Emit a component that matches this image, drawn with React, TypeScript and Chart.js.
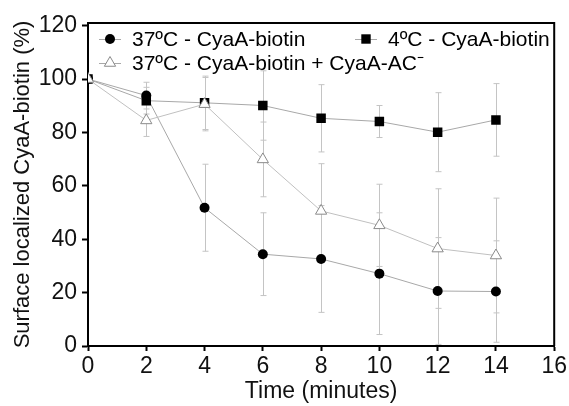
import React, { useEffect, useRef } from 'react';
import { Chart, registerables } from 'chart.js';

Chart.register(...registerables);

const times = [0, 2, 4, 6, 8, 10, 12, 14];
const warmMean = [100, 93.8, 51.8, 34.4, 32.6, 27.1, 20.6, 20.4];
const warmErr = [0, 5, 16.3, 15.5, 20, 22.8, 20, 19];
const coldMean = [100, 91.9, 91.1, 90.1, 85.3, 84.1, 80.1, 84.7];
const coldErr = [0, 5, 10, 13, 12.6, 6, 14.8, 13.6];
const compMean = [100, 84.5, 90.6, 69.9, 50.6, 45.2, 36.5, 33.9];
const compErr = [0, 6, 10, 14, 17.7, 15.4, 22.4, 21.5];
const xTicks = [0, 2, 4, 6, 8, 10, 12, 14, 16];
const yTicks = [0, 20, 40, 60, 80, 100, 120];
const seriesLabels = ['37ºC - CyaA-biotin', '4ºC - CyaA-biotin', '37ºC - CyaA-biotin + CyaA-AC⁻'];

const FONT = '"Liberation Sans", Arial, Helvetica, sans-serif';
const LINE_GREY = '#a8a8a8';
const ERR_GREY = '#c4c4c4';

const errorLists = [warmErr, coldErr, compErr];
const meanLists = [warmMean, coldMean, compMean];

const errorBarPlugin = {
  id: 'errorBars',
  beforeDatasetsDraw(chart: any) {
    const ctx = chart.ctx;
    const xs = chart.scales.x;
    const ys = chart.scales.y;
    ctx.save();
    ctx.strokeStyle = ERR_GREY;
    ctx.lineWidth = 1;
    meanLists.forEach((means, si) => {
      means.forEach((m, j) => {
        const e = errorLists[si][j];
        if (!e) return;
        const x = Math.round(xs.getPixelForValue(times[j])) + 0.5;
        const yt = ys.getPixelForValue(m + e);
        const yb = ys.getPixelForValue(m - e);
        ctx.beginPath();
        ctx.moveTo(x, yt);
        ctx.lineTo(x, yb);
        ctx.moveTo(x - 3, yt);
        ctx.lineTo(x + 3, yt);
        ctx.moveTo(x - 3, yb);
        ctx.lineTo(x + 3, yb);
        ctx.stroke();
      });
    });
    ctx.restore();
  },
};

function drawMarker(ctx: CanvasRenderingContext2D, kind: string, x: number, y: number) {
  ctx.save();
  if (kind === 'circle') {
    ctx.fillStyle = '#000';
    ctx.beginPath();
    ctx.arc(x, y, 5, 0, Math.PI * 2);
    ctx.fill();
  } else if (kind === 'rect') {
    const s = 4.7;
    ctx.fillStyle = '#000';
    ctx.fillRect(x - s, y - s, 2 * s, 2 * s);
  } else {
    const r = 6.5;
    ctx.fillStyle = '#fff';
    ctx.strokeStyle = '#8a8a8a';
    ctx.lineWidth = 1;
    ctx.beginPath();
    for (let k = 0; k < 3; k++) {
      const a = (k * 2 * Math.PI) / 3;
      const px = x + Math.sin(a) * r;
      const py = y - Math.cos(a) * r;
      if (k === 0) ctx.moveTo(px, py);
      else ctx.lineTo(px, py);
    }
    ctx.closePath();
    ctx.fill();
    ctx.stroke();
  }
  ctx.restore();
}

const framePlugin = {
  id: 'frameAndLegend',
  afterDraw(chart: any) {
    const ctx = chart.ctx;
    const a = chart.chartArea;
    ctx.save();
    ctx.strokeStyle = '#000';
    ctx.lineWidth = 2;
    ctx.beginPath();
    ctx.moveTo(a.left, a.top);
    ctx.lineTo(a.right, a.top);
    ctx.lineTo(a.right, a.bottom);
    ctx.stroke();

    const items = [
      { kind: 'circle', x: 110, y: 39, label: seriesLabels[0] },
      { kind: 'rect', x: 366, y: 39, label: seriesLabels[1] },
      { kind: 'triangle', x: 110, y: 63, label: seriesLabels[2] },
    ];
    ctx.font = `21px ${FONT}`;
    ctx.textBaseline = 'middle';
    ctx.textAlign = 'left';
    items.forEach((it) => {
      ctx.strokeStyle = LINE_GREY;
      ctx.lineWidth = 1;
      ctx.beginPath();
      ctx.moveTo(it.x - 11, it.y + 0.5);
      ctx.lineTo(it.x + 11, it.y + 0.5);
      ctx.stroke();
      drawMarker(ctx, it.kind, it.x, it.y);
      ctx.fillStyle = '#000';
      ctx.fillText(it.label, it.x + 22, it.y + 1);
    });
    ctx.restore();
  },
};

export default function App() {
  const ref = useRef<HTMLCanvasElement | null>(null);
  useEffect(() => {
    document.body.style.margin = '0';
    if (!ref.current) return;
    const mk = (means: number[]) => means.map((v, i) => ({ x: times[i], y: v }));
    const chart = new Chart(ref.current, {
      type: 'line',
      data: {
        datasets: [
          {
            label: seriesLabels[0],
            data: mk(warmMean),
            borderColor: LINE_GREY,
            borderWidth: 1,
            pointStyle: 'circle',
            pointRadius: 5,
            pointBackgroundColor: '#000',
            pointBorderColor: '#000',
            pointBorderWidth: 0,
            order: 3,
          },
          {
            label: seriesLabels[1],
            data: mk(coldMean),
            borderColor: LINE_GREY,
            borderWidth: 1,
            pointStyle: 'rect',
            pointRadius: 6.7,
            pointBackgroundColor: '#000',
            pointBorderColor: '#000',
            pointBorderWidth: 0,
            order: 2,
          },
          {
            label: seriesLabels[2],
            data: mk(compMean),
            borderColor: '#c0c0c0',
            borderWidth: 1,
            pointStyle: 'triangle',
            pointRadius: 6.5,
            pointBackgroundColor: '#fff',
            pointBorderColor: '#8a8a8a',
            pointBorderWidth: 1,
            order: 1,
          },
        ],
      },
      options: {
        animation: false,
        responsive: false,
        devicePixelRatio: 1,
        layout: { padding: { top: 23, right: 11, left: 0, bottom: 0 } },
        plugins: { legend: { display: false }, tooltip: { enabled: false } },
        scales: {
          x: {
            type: 'linear',
            min: 0,
            max: 16,
            afterBuildTicks: (s: any) => {
              s.ticks = xTicks.map((v) => ({ value: v }));
            },
            afterFit: (s: any) => {
              s.height = 60;
            },
            border: { color: '#000', width: 2 },
            grid: { drawOnChartArea: false, tickLength: 5, tickWidth: 2, tickColor: '#000' },
            ticks: { color: '#111', padding: 2, font: { family: FONT, size: 23 }, maxRotation: 0 },
            title: {
              display: true,
              text: 'Time (minutes)',
              color: '#111',
              font: { family: FONT, size: 23 },
              padding: { top: 1, bottom: 1 },
            },
          },
          y: {
            type: 'linear',
            min: 0,
            max: 121,
            afterBuildTicks: (s: any) => {
              s.ticks = yTicks.map((v) => ({ value: v }));
            },
            afterFit: (s: any) => {
              s.width = 88;
            },
            border: { color: '#000', width: 2 },
            grid: { drawOnChartArea: false, tickLength: 6, tickWidth: 2, tickColor: '#000' },
            ticks: { color: '#111', padding: 5, font: { family: FONT, size: 23 } },
            title: {
              display: true,
              text: 'Surface localized CyaA-biotin (%)',
              color: '#111',
              font: { family: FONT, size: 22 },
              padding: { top: 10, bottom: 10 },
            },
          },
        },
      },
      plugins: [errorBarPlugin, framePlugin],
    } as any);
    return () => chart.destroy();
  }, []);
  return (
    <div style={{ width: 569, height: 406 }}>
      <canvas ref={ref} width={569} height={406} style={{ display: 'block' }} />
    </div>
  );
}
